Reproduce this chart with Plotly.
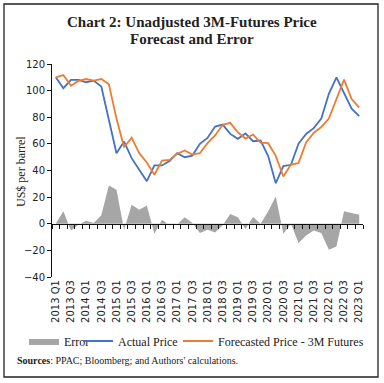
import plotly.graph_objects as go

quarters = [f"{y} Q{q}" for y in range(2013, 2024) for q in range(1, 5)][:41]
tick_labels = quarters[::2]

actual = [110, 101.8, 108, 108, 106.3, 107.5, 103, 77, 53, 61.7, 49.3, 40.5, 32,
          43.8, 43.8, 47.2, 53, 50, 51.2, 60, 64.5, 73, 74.5, 67.5, 63.8, 67.8,
          62, 62.5, 50.8, 30.5, 43.3, 44.3, 60.2, 67.4, 71.8, 79, 97.6, 110, 98.5,
          86.5, 80.8]
forecast = [110, 111.7, 103.7, 107.3, 108.7, 107.5, 108.7, 104.8, 79, 57.5, 64.7,
            53, 46, 36.8, 47.5, 48, 52.5, 55, 52, 53, 60.5, 66.3, 74.3, 75.8, 68.7,
            64, 67, 61, 60.5, 51, 35.5, 44.5, 45.5, 61, 68.2, 72.7, 79, 93.7, 108.3,
            93.7, 87.2]
error = [0, 9.3, -5, -0.7, 2.3, 0.5, 6.3, 28.8, 25.5, -4.5, 14.3, 10.5, 13.8, -7.5,
         3, -1.2, -0.5, 4.8, 0.5, -7, -4.5, -6.5, -1.2, 7.3, 4.8, -4, 5, 0, 9.3,
         20.5, -7.5, 0, -14.5, -8.8, -5, -7, -19.5, -17, 9.3, 8, 6.8]

W, H = 384, 383
L, R, T, B = 52, 21, 64, 106
PW, PH = W - L - R, H - T - B

def px_x(x):
    return (x - L) / PW

def px_y(y):
    return (H - B - y) / PH

SERIF = "Liberation Serif, Times New Roman, serif"
SANS = "DejaVu Sans, Verdana, sans-serif"

fig = go.Figure()
fig.add_trace(go.Scatter(x=quarters, y=error, name="Error", mode="lines",
                         fill="tozeroy", fillcolor="#A6A6A6", legend="legend",
                         line=dict(width=0, color="#A6A6A6")))
fig.add_trace(go.Scatter(x=quarters, y=actual, name="Actual Price", mode="lines",
                         legend="legend2",
                         line=dict(color="#4472C4", width=1.8)))
fig.add_trace(go.Scatter(x=quarters, y=forecast, name="Forecasted Price - 3M Futures",
                         legend="legend3",
                         mode="lines", line=dict(color="#ED7D31", width=1.8)))
# helper trace for the zero-line category axis
fig.add_trace(go.Scatter(x=[0], y=[0], xaxis="x2", mode="lines", showlegend=False,
                         hoverinfo="skip", line=dict(width=0)))

def leg(xpx):
    return dict(orientation="h", x=xpx / W, xref="container", xanchor="left",
                y=1 - 341 / H, yref="container", yanchor="middle",
                font=dict(family=SERIF, size=12, color="#222"),
                itemwidth=30, bgcolor="rgba(0,0,0,0)", borderwidth=0)

fig.update_layout(
    width=W, height=H,
    margin=dict(l=L, r=R, t=T, b=B, autoexpand=False),
    paper_bgcolor="white", plot_bgcolor="white",
    xaxis=dict(type="category", range=[-0.5, 40.5], tickvals=tick_labels,
               ticktext=tick_labels, tickangle=-90, showline=False, ticks="",
               showgrid=False, zeroline=False,
               tickfont=dict(family=SANS, size=10, color="#222")),
    xaxis2=dict(overlaying="x", anchor="free", position=0.25, side="bottom",
                range=[-0.5, 40.5], tick0=-0.5, dtick=1, ticks="outside",
                ticklen=4, tickcolor="#111", showticklabels=False, showline=True,
                linecolor="#111", linewidth=1, showgrid=False, zeroline=False),
    yaxis=dict(range=[-40, 120], dtick=20, showline=True, linecolor="#111",
               linewidth=1, ticks="outside", ticklen=4, tickcolor="#111",
               showgrid=False, zeroline=False,
               tickfont=dict(family=SANS, size=10, color="#222")),
    legend=leg(24),
    legend2=leg(78),
    legend3=leg(178),
    showlegend=True,
)

fig.add_annotation(text="<b>Chart 2: Unadjusted 3M-Futures Price</b>", showarrow=False,
                   xref="paper", yref="paper", x=px_x(192), y=px_y(22),
                   xanchor="center", yanchor="middle",
                   font=dict(family=SERIF, size=15, color="#222"))
fig.add_annotation(text="<b>Forecast and Error</b>", showarrow=False,
                   xref="paper", yref="paper", x=px_x(192), y=px_y(39),
                   xanchor="center", yanchor="middle",
                   font=dict(family=SERIF, size=15, color="#222"))
fig.add_annotation(text="US$ per barrel", textangle=-90, showarrow=False,
                   xref="paper", yref="paper", x=px_x(21), y=px_y(172),
                   xanchor="center", yanchor="middle",
                   font=dict(family=SERIF, size=12, color="#222"))
fig.add_annotation(text="<b>Sources</b>: PPAC; Bloomberg; and Authors' calculations.",
                   showarrow=False, xref="paper", yref="paper",
                   x=px_x(15), y=px_y(360), xanchor="left", yanchor="middle",
                   font=dict(family=SERIF, size=10, color="#222"))
fig.add_shape(type="rect", xref="paper", yref="paper",
              x0=px_x(4), x1=px_x(378), y0=px_y(377), y1=px_y(4),
              line=dict(color="#222", width=1.3))

fig.write_html("out.html", config={"displayModeBar": False},
               post_script="document.body.style.margin='0';document.body.style.padding='0';")
